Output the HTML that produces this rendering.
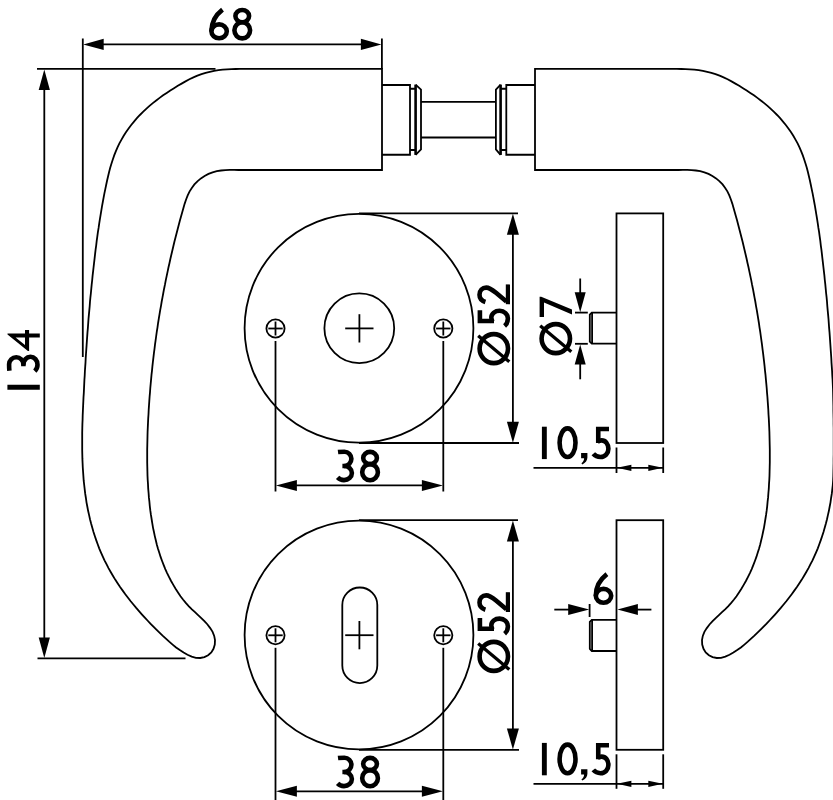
<!DOCTYPE html>
<html><head><meta charset="utf-8"><title>Drawing</title>
<style>
html,body{margin:0;padding:0;background:#fff;}
body{width:833px;height:800px;overflow:hidden;font-family:"Liberation Sans",sans-serif;}
svg{display:block;}
svg path,svg circle,svg rect{fill:none;stroke:#000;stroke-width:1.8;}
svg .a{fill:#000;stroke:none;}
svg .t{font-family:"Liberation Sans",sans-serif;fill:#000;stroke:#000;stroke-width:1.1px;}
svg .k{stroke-width:2.6;}
</style></head><body>
<svg width="833" height="800" viewBox="0 0 833 800">
<rect x="0" y="0" width="833" height="800" style="fill:#fff;stroke:none"/>

<path d="M382 68.9 L262.0 68.9 257.6 68.9 253.3 68.9 248.9 68.9 244.5 68.9 240.1 68.9 235.7 69.0 231.4 69.1 227.0 69.4 222.7 69.7 218.4 70.2 214.1 70.9 209.8 71.8 205.6 72.8 201.5 74.1 197.4 75.7 193.4 77.4 189.4 79.3 185.5 81.4 181.6 83.6 177.8 85.8 174.0 88.2 170.3 90.5 166.7 92.9 163.1 95.3 159.6 97.9 156.2 100.5 152.8 103.1 149.5 105.9 146.2 108.8 143.0 111.9 139.9 115.0 136.9 118.2 134.0 121.6 131.2 125.0 128.6 128.5 126.1 132.1 123.7 135.8 121.5 139.6 119.4 143.4 117.5 147.3 115.8 151.3 114.2 155.4 112.8 159.5 111.5 163.6 110.2 167.8 109.1 172.0 108.1 176.2 107.1 180.5 106.2 184.8 105.3 189.1 104.4 193.4 103.6 197.7 102.8 202.0 102.0 206.3 101.3 210.6 100.6 214.9 99.9 219.2 99.2 223.6 98.6 227.9 97.9 232.2 97.3 236.6 96.7 240.9 96.2 245.3 95.6 249.6 95.1 253.9 94.6 258.3 94.1 262.6 93.6 267.0 93.1 271.3 92.6 275.6 92.2 280.0 91.7 284.3 91.3 288.7 90.9 293.0 90.4 297.3 90.0 301.7 89.7 306.0 89.3 310.4 88.9 314.7 88.5 319.0 88.2 323.4 87.9 327.7 87.5 332.1 87.2 336.4 86.9 340.8 86.6 345.1 86.3 349.5 86.0 353.8 85.7 358.2 85.5 362.6 85.2 366.9 84.9 371.3 84.7 375.7 84.4 380.0 84.2 384.4 84.0 388.8 83.8 393.1 83.5 397.5 83.3 401.9 83.1 406.3 82.9 410.7 82.7 415.1 82.6 419.5 82.4 423.9 82.3 428.3 82.2 432.7 82.2 437.0 82.2 441.4 82.2 445.8 82.2 450.2 82.3 454.6 82.4 458.9 82.6 463.3 82.8 467.7 83.1 472.0 83.4 476.4 83.7 480.7 84.2 485.0 84.7 489.4 85.2 493.7 85.9 498.0 86.5 502.3 87.3 506.5 88.1 510.8 89.1 515.1 90.0 519.3 91.1 523.5 92.3 527.7 93.5 531.9 94.8 536.0 96.2 540.1 97.7 544.2 99.2 548.3 100.9 552.3 102.7 556.3 104.5 560.3 106.5 564.2 108.5 568.1 110.7 572.0 112.9 575.8 115.2 579.6 117.6 583.3 120.1 587.0 122.7 590.6 125.3 594.2 128.0 597.7 130.7 601.2 133.4 604.5 136.2 607.9 139.0 611.1 141.8 614.3 144.6 617.4 147.5 620.5 150.4 623.6 153.4 626.6 156.4 629.6 159.5 632.6 162.6 635.6 165.9 638.6 169.2 641.7 172.6 644.6 176.1 647.5 179.8 650.1 183.6 652.6 187.5 654.8 191.7 656.6 195.9 657.8 200.2 658.0 204.4 657.1 208.1 655.2 211.3 652.4 213.5 648.8 214.8 644.6 215.0 640.1 214.2 635.9 212.6 631.8 210.2 628.1 207.5 624.5 204.4 621.2 201.3 618.1 198.1 615.1 195.0 612.2 191.9 609.3 188.9 606.3 186.0 603.1 183.2 599.7 180.5 596.2 178.0 592.5 175.6 588.8 173.3 584.9 171.1 581.0 169.1 577.1 167.1 573.1 165.3 569.1 163.7 565.1 162.1 561.0 160.6 556.9 159.3 552.8 158.0 548.7 156.8 544.5 155.8 540.3 154.8 536.1 153.9 531.8 153.0 527.6 152.3 523.3 151.6 519.0 150.9 514.7 150.3 510.4 149.8 506.1 149.4 501.7 148.9 497.4 148.6 493.0 148.2 488.7 148.0 484.3 147.7 480.0 147.5 475.6 147.4 471.2 147.3 466.8 147.2 462.4 147.2 458.1 147.2 453.7 147.2 449.3 147.3 444.9 147.4 440.5 147.5 436.1 147.6 431.7 147.8 427.3 148.0 422.9 148.2 418.6 148.5 414.2 148.7 409.8 149.0 405.4 149.3 401.1 149.6 396.7 150.0 392.3 150.3 388.0 150.7 383.6 151.1 379.3 151.5 374.9 152.0 370.6 152.4 366.3 152.9 361.9 153.4 357.6 153.9 353.3 154.5 348.9 155.0 344.6 155.6 340.3 156.2 336.0 156.8 331.7 157.5 327.3 158.1 323.0 158.8 318.7 159.5 314.4 160.2 310.1 161.0 305.8 161.7 301.5 162.5 297.3 163.3 293.0 164.1 288.7 165.0 284.4 165.8 280.1 166.7 275.9 167.6 271.6 168.5 267.3 169.5 263.0 170.4 258.8 171.4 254.5 172.4 250.3 173.4 246.0 174.4 241.7 175.5 237.5 176.6 233.3 177.7 229.0 178.8 224.8 179.9 220.5 181.1 216.3 182.3 212.1 183.5 207.8 184.7 203.6 186.1 199.5 187.7 195.4 189.5 191.6 191.8 187.9 194.4 184.4 197.4 181.3 200.9 178.4 204.6 176.0 208.5 173.9 212.6 172.3 216.8 171.2 221.1 170.5 225.4 170.1 229.8 169.9 234.1 169.9 238.5 170.0 242.9 170.0 247.3 170.0 251.6 170.0 256.0 170.0L382 170Z"/>
<path d="M535 68.9 L655.0 68.9 659.4 68.9 663.7 68.9 668.1 68.9 672.5 68.9 676.9 68.9 681.3 69.0 685.6 69.1 690.0 69.4 694.3 69.7 698.6 70.2 702.9 70.9 707.2 71.8 711.4 72.8 715.5 74.1 719.6 75.7 723.6 77.4 727.6 79.3 731.5 81.4 735.4 83.6 739.2 85.8 743.0 88.2 746.7 90.5 750.3 92.9 753.9 95.3 757.4 97.9 760.8 100.5 764.2 103.1 767.5 105.9 770.8 108.8 774.0 111.9 777.1 115.0 780.1 118.2 783.0 121.6 785.8 125.0 788.4 128.5 790.9 132.1 793.3 135.8 795.5 139.6 797.6 143.4 799.5 147.3 801.2 151.3 802.8 155.4 804.2 159.5 805.5 163.6 806.8 167.8 807.9 172.0 808.9 176.2 809.9 180.5 810.8 184.8 811.7 189.1 812.6 193.4 813.4 197.7 814.2 202.0 815.0 206.3 815.7 210.6 816.4 214.9 817.1 219.2 817.8 223.6 818.4 227.9 819.1 232.2 819.7 236.6 820.3 240.9 820.8 245.3 821.4 249.6 821.9 253.9 822.4 258.3 822.9 262.6 823.4 267.0 823.9 271.3 824.4 275.6 824.8 280.0 825.3 284.3 825.7 288.7 826.1 293.0 826.6 297.3 827.0 301.7 827.3 306.0 827.7 310.4 828.1 314.7 828.5 319.0 828.8 323.4 829.1 327.7 829.5 332.1 829.8 336.4 830.1 340.8 830.4 345.1 830.7 349.5 831.0 353.8 831.3 358.2 831.5 362.6 831.8 366.9 832.1 371.3 832.3 375.7 832.6 380.0 832.8 384.4 833.0 388.8 833.1 393.1 833.2 397.5 833.3 401.9 833.4 406.3 833.4 410.7 833.5 415.1 833.6 419.5 833.6 423.9 833.7 428.3 833.7 432.7 833.7 437.0 833.7 441.4 833.7 445.8 833.7 450.2 833.7 454.6 833.6 458.9 833.6 463.3 833.5 467.7 833.4 472.0 833.3 476.4 833.1 480.7 832.8 485.0 832.3 489.4 831.8 493.7 831.1 498.0 830.5 502.3 829.7 506.5 828.9 510.8 827.9 515.1 827.0 519.3 825.9 523.5 824.7 527.7 823.5 531.9 822.2 536.0 820.8 540.1 819.3 544.2 817.8 548.3 816.1 552.3 814.3 556.3 812.5 560.3 810.5 564.2 808.5 568.1 806.3 572.0 804.1 575.8 801.8 579.6 799.4 583.3 796.9 587.0 794.3 590.6 791.7 594.2 789.0 597.7 786.3 601.2 783.6 604.5 780.8 607.9 778.0 611.1 775.2 614.3 772.4 617.4 769.5 620.5 766.6 623.6 763.6 626.6 760.6 629.6 757.5 632.6 754.4 635.6 751.1 638.6 747.8 641.7 744.4 644.6 740.9 647.5 737.2 650.1 733.4 652.6 729.5 654.8 725.3 656.6 721.1 657.8 716.8 658.0 712.6 657.1 708.9 655.2 705.7 652.4 703.5 648.8 702.2 644.6 702.0 640.1 702.8 635.9 704.4 631.8 706.8 628.1 709.5 624.5 712.6 621.2 715.7 618.1 718.9 615.1 722.0 612.2 725.1 609.3 728.1 606.3 731.0 603.1 733.8 599.7 736.5 596.2 739.0 592.5 741.4 588.8 743.7 584.9 745.9 581.0 747.9 577.1 749.9 573.1 751.7 569.1 753.3 565.1 754.9 561.0 756.4 556.9 757.7 552.8 759.0 548.7 760.2 544.5 761.2 540.3 762.2 536.1 763.1 531.8 764.0 527.6 764.7 523.3 765.4 519.0 766.1 514.7 766.7 510.4 767.2 506.1 767.6 501.7 768.1 497.4 768.4 493.0 768.8 488.7 769.0 484.3 769.3 480.0 769.5 475.6 769.6 471.2 769.7 466.8 769.8 462.4 769.8 458.1 769.8 453.7 769.8 449.3 769.7 444.9 769.6 440.5 769.5 436.1 769.4 431.7 769.2 427.3 769.0 422.9 768.8 418.6 768.5 414.2 768.3 409.8 768.0 405.4 767.7 401.1 767.4 396.7 767.0 392.3 766.7 388.0 766.3 383.6 765.9 379.3 765.5 374.9 765.0 370.6 764.6 366.3 764.1 361.9 763.6 357.6 763.1 353.3 762.5 348.9 762.0 344.6 761.4 340.3 760.8 336.0 760.2 331.7 759.5 327.3 758.9 323.0 758.2 318.7 757.5 314.4 756.8 310.1 756.0 305.8 755.3 301.5 754.5 297.3 753.7 293.0 752.9 288.7 752.0 284.4 751.2 280.1 750.3 275.9 749.4 271.6 748.5 267.3 747.5 263.0 746.6 258.8 745.6 254.5 744.6 250.3 743.6 246.0 742.6 241.7 741.5 237.5 740.4 233.3 739.3 229.0 738.2 224.8 737.1 220.5 735.9 216.3 734.7 212.1 733.5 207.8 732.3 203.6 730.9 199.5 729.3 195.4 727.5 191.6 725.2 187.9 722.6 184.4 719.6 181.3 716.1 178.4 712.4 176.0 708.5 173.9 704.4 172.3 700.2 171.2 695.9 170.5 691.6 170.1 687.2 169.9 682.9 169.9 678.5 170.0 674.1 170.0 669.7 170.0 665.4 170.0 661.0 170.0L535 170Z"/>
<path d="M382 85H410V154.75H382"/>
<path d="M410 88.75H415.6M410 150H415.6"/>
<path class="k" d="M415.6 84.6V154.9"/>
<path d="M415.6 84.6L421 89.6V149.4L415.6 154.9"/>
<path d="M421 101.9H495.9M421 137.5H495.9"/>
<path d="M535 85H506.3V154.75H535"/>
<path d="M506.3 88.75H500.6M506.3 150H500.6"/>
<path class="k" d="M500.6 84.6V154.9"/>
<path d="M500.6 84.6L495.9 89.6V149.4L500.6 154.9"/>
<path d="M82.80 38.50 L82.80 357.00"/>
<path d="M381.90 38.50 L381.90 68.90"/>
<path d="M90.00 44.40 L375.00 44.40"/>
<polygon class="a" points="83.20,44.40 103.70,38.80 103.70,50.00"/>
<polygon class="a" points="381.40,44.40 360.90,38.80 360.90,50.00"/>
<path d="M37.00 68.90 L215.50 68.90"/>
<path d="M37.50 658.40 L185.50 658.40"/>
<path d="M44.30 76.00 L44.30 652.00"/>
<polygon class="a" points="44.30,69.60 38.70,90.10 49.90,90.10"/>
<polygon class="a" points="44.30,658.00 38.70,637.50 49.90,637.50"/>
<circle cx="359" cy="328.20" r="114.4"/>
<circle cx="275.50" cy="328.50" r="9.1"/><path d="M268.30 328.50 L282.70 328.50"/><path d="M275.50 321.50 L275.50 335.50"/>
<circle cx="443.30" cy="328.50" r="9.1"/><path d="M436.10 328.50 L450.50 328.50"/><path d="M443.30 321.50 L443.30 335.50"/>
<path d="M345.20 328.40 L373.50 328.40"/>
<path d="M359.40 314.20 L359.40 342.50"/>
<path d="M275.50 341.00 L275.50 491.50"/>
<path d="M443.30 341.00 L443.30 491.50"/>
<path d="M282.00 485.40 L437.00 485.40"/>
<polygon class="a" points="275.90,485.40 296.90,479.90 296.90,490.90"/>
<polygon class="a" points="442.90,485.40 421.90,479.90 421.90,490.90"/>
<path d="M359.00 213.40 L518.00 213.40"/>
<path d="M359.00 443.00 L519.00 443.00"/>
<path d="M512.90 219.40 L512.90 437.00"/>
<polygon class="a" points="512.90,213.70 506.90,234.70 518.90,234.70"/>
<polygon class="a" points="512.90,442.70 506.90,421.70 518.90,421.70"/>
<rect x="616.5" y="213.40" width="46.7" height="229.60"/>
<path d="M533.50 467.80 L663.20 467.80"/>
<path d="M616.50 447.50 L616.50 473.00"/>
<path d="M663.20 447.50 L663.20 473.00"/>
<polygon class="a" points="616.90,467.80 631.40,464.70 631.40,470.90"/>
<polygon class="a" points="662.80,467.80 648.30,464.70 648.30,470.90"/>
<circle cx="359" cy="635.00" r="114.4"/>
<circle cx="275.50" cy="635.30" r="9.1"/><path d="M268.30 635.30 L282.70 635.30"/><path d="M275.50 628.30 L275.50 642.30"/>
<circle cx="443.30" cy="635.30" r="9.1"/><path d="M436.10 635.30 L450.50 635.30"/><path d="M443.30 628.30 L443.30 642.30"/>
<path d="M345.20 635.20 L373.50 635.20"/>
<path d="M359.40 621.00 L359.40 649.30"/>
<path d="M275.50 647.80 L275.50 800.00"/>
<path d="M443.30 647.80 L443.30 800.00"/>
<path d="M282.00 791.30 L437.00 791.30"/>
<polygon class="a" points="275.90,791.30 296.90,785.80 296.90,796.80"/>
<polygon class="a" points="442.90,791.30 421.90,785.80 421.90,796.80"/>
<path d="M359.00 520.20 L518.00 520.20"/>
<path d="M359.00 749.80 L519.00 749.80"/>
<path d="M512.90 526.20 L512.90 743.80"/>
<polygon class="a" points="512.90,520.50 506.90,541.50 518.90,541.50"/>
<polygon class="a" points="512.90,749.50 506.90,728.50 518.90,728.50"/>
<rect x="616.5" y="520.20" width="46.7" height="229.60"/>
<path d="M533.50 783.80 L663.20 783.80"/>
<path d="M616.50 754.30 L616.50 788.80"/>
<path d="M663.20 754.30 L663.20 788.80"/>
<polygon class="a" points="616.90,783.80 631.40,780.70 631.40,786.90"/>
<polygon class="a" points="662.80,783.80 648.30,780.70 648.30,786.90"/>
<circle cx="359.3" cy="328.3" r="34.9"/>
<rect x="342.3" y="587.5" width="35" height="95.6" rx="17.5" ry="17.5"/>
<path d="M616.5 312.60H591.8L589.8 314.60V341.60L591.8 343.60H616.5"/><path d="M592.1 312.60V343.60"/>
<path d="M616.5 619.80H591.8L589.8 621.80V649.00L591.8 651.00H616.5"/><path d="M592.1 619.80V651.00"/>
<path d="M575.00 312.60 L587.80 312.60"/>
<path d="M575.00 343.80 L587.80 343.80"/>
<path d="M580.20 278.50 L580.20 300.00"/>
<path d="M580.20 357.00 L580.20 379.30"/>
<polygon class="a" points="580.20,312.20 574.70,292.20 585.70,292.20"/>
<polygon class="a" points="580.20,344.40 574.70,364.40 585.70,364.40"/>
<path d="M554.30 609.60 L575.00 609.60"/>
<path d="M630.00 609.60 L651.40 609.60"/>
<polygon class="a" points="589.20,609.60 568.20,604.10 568.20,615.10"/>
<polygon class="a" points="617.40,609.60 637.90,604.10 637.90,615.10"/>
<path d="M589.60 604.00 L589.60 617.00"/>
<g transform="translate(209.10 40.50)"><path d="M13.4 -30.9C9 -27.5 2.3 -20 2.3 -9.2" style="fill:none;stroke:#000;stroke-width:4.6;stroke-linejoin:miter;stroke-linecap:butt"/><path d="M2.3 -9.2a7.7 6.9 0 1 0 15.4 0a7.7 6.9 0 1 0 -15.4 0Z" style="fill:none;stroke:#000;stroke-width:4.6;stroke-linejoin:miter;stroke-linecap:butt"/></g><g transform="translate(232.10 40.50)"><path d="M3.3 -24.4a6.85 6.1 0 1 0 13.7 0a6.85 6.1 0 1 0 -13.7 0Z" style="fill:none;stroke:#000;stroke-width:4.6;stroke-linejoin:miter;stroke-linecap:butt"/><path d="M2.3 -10.2a7.85 8.1 0 1 0 15.7 0a7.85 8.1 0 1 0 -15.7 0Z" style="fill:none;stroke:#000;stroke-width:4.6;stroke-linejoin:miter;stroke-linecap:butt"/></g>
<g transform="translate(39.80 389.70) rotate(-90)"><path d="M0 0V-32.4H4.9V0Z" style="fill:#000;stroke:none;fill-rule:evenodd"/></g><g transform="translate(39.80 371.90) rotate(-90)"><path d="M1.2 -30.4C3.5 -30.7 5.5 -30.7 7.6 -30.7a7 7.15 0 0 1 0 14.3H5.6" style="fill:none;stroke:#000;stroke-width:4.6;stroke-linejoin:miter;stroke-linecap:butt"/><path d="M7.2 -16.4a7.9 7.05 0 0 1 0 14.1C4.5 -2.3 2.5 -3.2 0.8 -5" style="fill:none;stroke:#000;stroke-width:4.6;stroke-linejoin:miter;stroke-linecap:butt"/></g><g transform="translate(39.80 351.00) rotate(-90)"><path d="M17.6 -32.3V-14.8H20.9V-10.7H17.6V0H13.6V-10.7H0V-11.9L16.6 -32.3ZM13.6 -24.2V-14.8H5.9Z" style="fill:#000;stroke:none;fill-rule:evenodd"/></g>
<g transform="translate(336.80 482.40)"><path d="M1.2 -30.4C3.5 -30.7 5.5 -30.7 7.6 -30.7a7 7.15 0 0 1 0 14.3H5.6" style="fill:none;stroke:#000;stroke-width:4.6;stroke-linejoin:miter;stroke-linecap:butt"/><path d="M7.2 -16.4a7.9 7.05 0 0 1 0 14.1C4.5 -2.3 2.5 -3.2 0.8 -5" style="fill:none;stroke:#000;stroke-width:4.6;stroke-linejoin:miter;stroke-linecap:butt"/></g><g transform="translate(359.90 482.40)"><path d="M3.3 -24.4a6.85 6.1 0 1 0 13.7 0a6.85 6.1 0 1 0 -13.7 0Z" style="fill:none;stroke:#000;stroke-width:4.6;stroke-linejoin:miter;stroke-linecap:butt"/><path d="M2.3 -10.2a7.85 8.1 0 1 0 15.7 0a7.85 8.1 0 1 0 -15.7 0Z" style="fill:none;stroke:#000;stroke-width:4.6;stroke-linejoin:miter;stroke-linecap:butt"/></g>
<g transform="translate(336.80 788.40)"><path d="M1.2 -30.4C3.5 -30.7 5.5 -30.7 7.6 -30.7a7 7.15 0 0 1 0 14.3H5.6" style="fill:none;stroke:#000;stroke-width:4.6;stroke-linejoin:miter;stroke-linecap:butt"/><path d="M7.2 -16.4a7.9 7.05 0 0 1 0 14.1C4.5 -2.3 2.5 -3.2 0.8 -5" style="fill:none;stroke:#000;stroke-width:4.6;stroke-linejoin:miter;stroke-linecap:butt"/></g><g transform="translate(359.90 788.40)"><path d="M3.3 -24.4a6.85 6.1 0 1 0 13.7 0a6.85 6.1 0 1 0 -13.7 0Z" style="fill:none;stroke:#000;stroke-width:4.6;stroke-linejoin:miter;stroke-linecap:butt"/><path d="M2.3 -10.2a7.85 8.1 0 1 0 15.7 0a7.85 8.1 0 1 0 -15.7 0Z" style="fill:none;stroke:#000;stroke-width:4.6;stroke-linejoin:miter;stroke-linecap:butt"/></g>
<g transform="translate(510.00 365.40) rotate(-90)"><path d="M2.3 -16.2a14.5 14.2 0 1 0 29 0a14.5 14.2 0 1 0 -29 0Z" style="fill:none;stroke:#000;stroke-width:4.6;stroke-linejoin:miter;stroke-linecap:butt"/><path d="M3.6 -0.7L29.7 -31.8" style="fill:none;stroke:#000;stroke-width:3.3;stroke-linejoin:miter;stroke-linecap:butt"/></g><g transform="translate(510.00 327.00) rotate(-90)"><path d="M16.8 -30.1H6.05V-16" style="fill:none;stroke:#000;stroke-width:4.6;stroke-linejoin:miter;stroke-linecap:butt"/><path d="M5.2 -17.3C6.6 -18.3 8 -18.7 9.4 -18.7C13.4 -18.7 16.2 -15 16.2 -10.4C16.2 -5.7 12.8 -2.1 8.4 -2.1C5.5 -2.1 3 -3.1 1.1 -5.4" style="fill:none;stroke:#000;stroke-width:4.6;stroke-linejoin:miter;stroke-linecap:butt"/></g><g transform="translate(510.00 304.20) rotate(-90)"><path d="M2.2 -24.6C3.4 -28.4 6 -30.5 9.4 -30.5C13.6 -30.5 16.6 -27.6 16.6 -23.8C16.6 -20.4 14.4 -17.6 11.4 -14L2.8 -3.6" style="fill:none;stroke:#000;stroke-width:4.6;stroke-linejoin:miter;stroke-linecap:butt"/><path d="M0 0V-4.2H19.8V0Z" style="fill:#000;stroke:none;fill-rule:evenodd"/><path d="M0 -1 L3.4 -7 L6 -4.2 L2 0Z" style="fill:#000;stroke:none;fill-rule:evenodd"/></g>
<g transform="translate(510.00 673.20) rotate(-90)"><path d="M2.3 -16.2a14.5 14.2 0 1 0 29 0a14.5 14.2 0 1 0 -29 0Z" style="fill:none;stroke:#000;stroke-width:4.6;stroke-linejoin:miter;stroke-linecap:butt"/><path d="M3.6 -0.7L29.7 -31.8" style="fill:none;stroke:#000;stroke-width:3.3;stroke-linejoin:miter;stroke-linecap:butt"/></g><g transform="translate(510.00 634.80) rotate(-90)"><path d="M16.8 -30.1H6.05V-16" style="fill:none;stroke:#000;stroke-width:4.6;stroke-linejoin:miter;stroke-linecap:butt"/><path d="M5.2 -17.3C6.6 -18.3 8 -18.7 9.4 -18.7C13.4 -18.7 16.2 -15 16.2 -10.4C16.2 -5.7 12.8 -2.1 8.4 -2.1C5.5 -2.1 3 -3.1 1.1 -5.4" style="fill:none;stroke:#000;stroke-width:4.6;stroke-linejoin:miter;stroke-linecap:butt"/></g><g transform="translate(510.00 612.00) rotate(-90)"><path d="M2.2 -24.6C3.4 -28.4 6 -30.5 9.4 -30.5C13.6 -30.5 16.6 -27.6 16.6 -23.8C16.6 -20.4 14.4 -17.6 11.4 -14L2.8 -3.6" style="fill:none;stroke:#000;stroke-width:4.6;stroke-linejoin:miter;stroke-linecap:butt"/><path d="M0 0V-4.2H19.8V0Z" style="fill:#000;stroke:none;fill-rule:evenodd"/><path d="M0 -1 L3.4 -7 L6 -4.2 L2 0Z" style="fill:#000;stroke:none;fill-rule:evenodd"/></g>
<g transform="translate(572.00 355.40) rotate(-90)"><path d="M2.3 -16.2a14.5 14.2 0 1 0 29 0a14.5 14.2 0 1 0 -29 0Z" style="fill:none;stroke:#000;stroke-width:4.6;stroke-linejoin:miter;stroke-linecap:butt"/><path d="M3.6 -0.7L29.7 -31.8" style="fill:none;stroke:#000;stroke-width:3.3;stroke-linejoin:miter;stroke-linecap:butt"/></g><g transform="translate(572.00 316.90) rotate(-90)"><path d="M0 -32.4H20.1V-30.8L7.3 0H2.4L14.4 -28H0Z" style="fill:#000;stroke:none;fill-rule:evenodd"/></g>
<g transform="translate(593.50 605.00)"><path d="M13.4 -30.9C9 -27.5 2.3 -20 2.3 -9.2" style="fill:none;stroke:#000;stroke-width:4.6;stroke-linejoin:miter;stroke-linecap:butt"/><path d="M2.3 -9.2a7.7 6.9 0 1 0 15.4 0a7.7 6.9 0 1 0 -15.4 0Z" style="fill:none;stroke:#000;stroke-width:4.6;stroke-linejoin:miter;stroke-linecap:butt"/></g>
<g transform="translate(541.90 459.10)"><path d="M0 0V-32.4H4.9V0Z" style="fill:#000;stroke:none;fill-rule:evenodd"/></g><g transform="translate(557.30 459.10)"><path d="M2.3 -16.4a7.95 14.3 0 1 0 15.9 0a7.95 14.3 0 1 0 -15.9 0Z" style="fill:none;stroke:#000;stroke-width:4.6;stroke-linejoin:miter;stroke-linecap:butt"/></g><g transform="translate(581.10 459.10)"><path d="M0 -6.1H6.3V-1.5C6.3 1.5 4.5 3.8 1.3 5.3L0.3 4.2C2 3 3 1.2 3 -0.8H0Z" style="fill:#000;stroke:none;fill-rule:evenodd"/></g><g transform="translate(592.20 459.10)"><path d="M16.8 -30.1H6.05V-16" style="fill:none;stroke:#000;stroke-width:4.6;stroke-linejoin:miter;stroke-linecap:butt"/><path d="M5.2 -17.3C6.6 -18.3 8 -18.7 9.4 -18.7C13.4 -18.7 16.2 -15 16.2 -10.4C16.2 -5.7 12.8 -2.1 8.4 -2.1C5.5 -2.1 3 -3.1 1.1 -5.4" style="fill:none;stroke:#000;stroke-width:4.6;stroke-linejoin:miter;stroke-linecap:butt"/></g>
<g transform="translate(541.90 775.30)"><path d="M0 0V-32.4H4.9V0Z" style="fill:#000;stroke:none;fill-rule:evenodd"/></g><g transform="translate(557.30 775.30)"><path d="M2.3 -16.4a7.95 14.3 0 1 0 15.9 0a7.95 14.3 0 1 0 -15.9 0Z" style="fill:none;stroke:#000;stroke-width:4.6;stroke-linejoin:miter;stroke-linecap:butt"/></g><g transform="translate(581.10 775.30)"><path d="M0 -6.1H6.3V-1.5C6.3 1.5 4.5 3.8 1.3 5.3L0.3 4.2C2 3 3 1.2 3 -0.8H0Z" style="fill:#000;stroke:none;fill-rule:evenodd"/></g><g transform="translate(592.20 775.30)"><path d="M16.8 -30.1H6.05V-16" style="fill:none;stroke:#000;stroke-width:4.6;stroke-linejoin:miter;stroke-linecap:butt"/><path d="M5.2 -17.3C6.6 -18.3 8 -18.7 9.4 -18.7C13.4 -18.7 16.2 -15 16.2 -10.4C16.2 -5.7 12.8 -2.1 8.4 -2.1C5.5 -2.1 3 -3.1 1.1 -5.4" style="fill:none;stroke:#000;stroke-width:4.6;stroke-linejoin:miter;stroke-linecap:butt"/></g>
</svg></body></html>
